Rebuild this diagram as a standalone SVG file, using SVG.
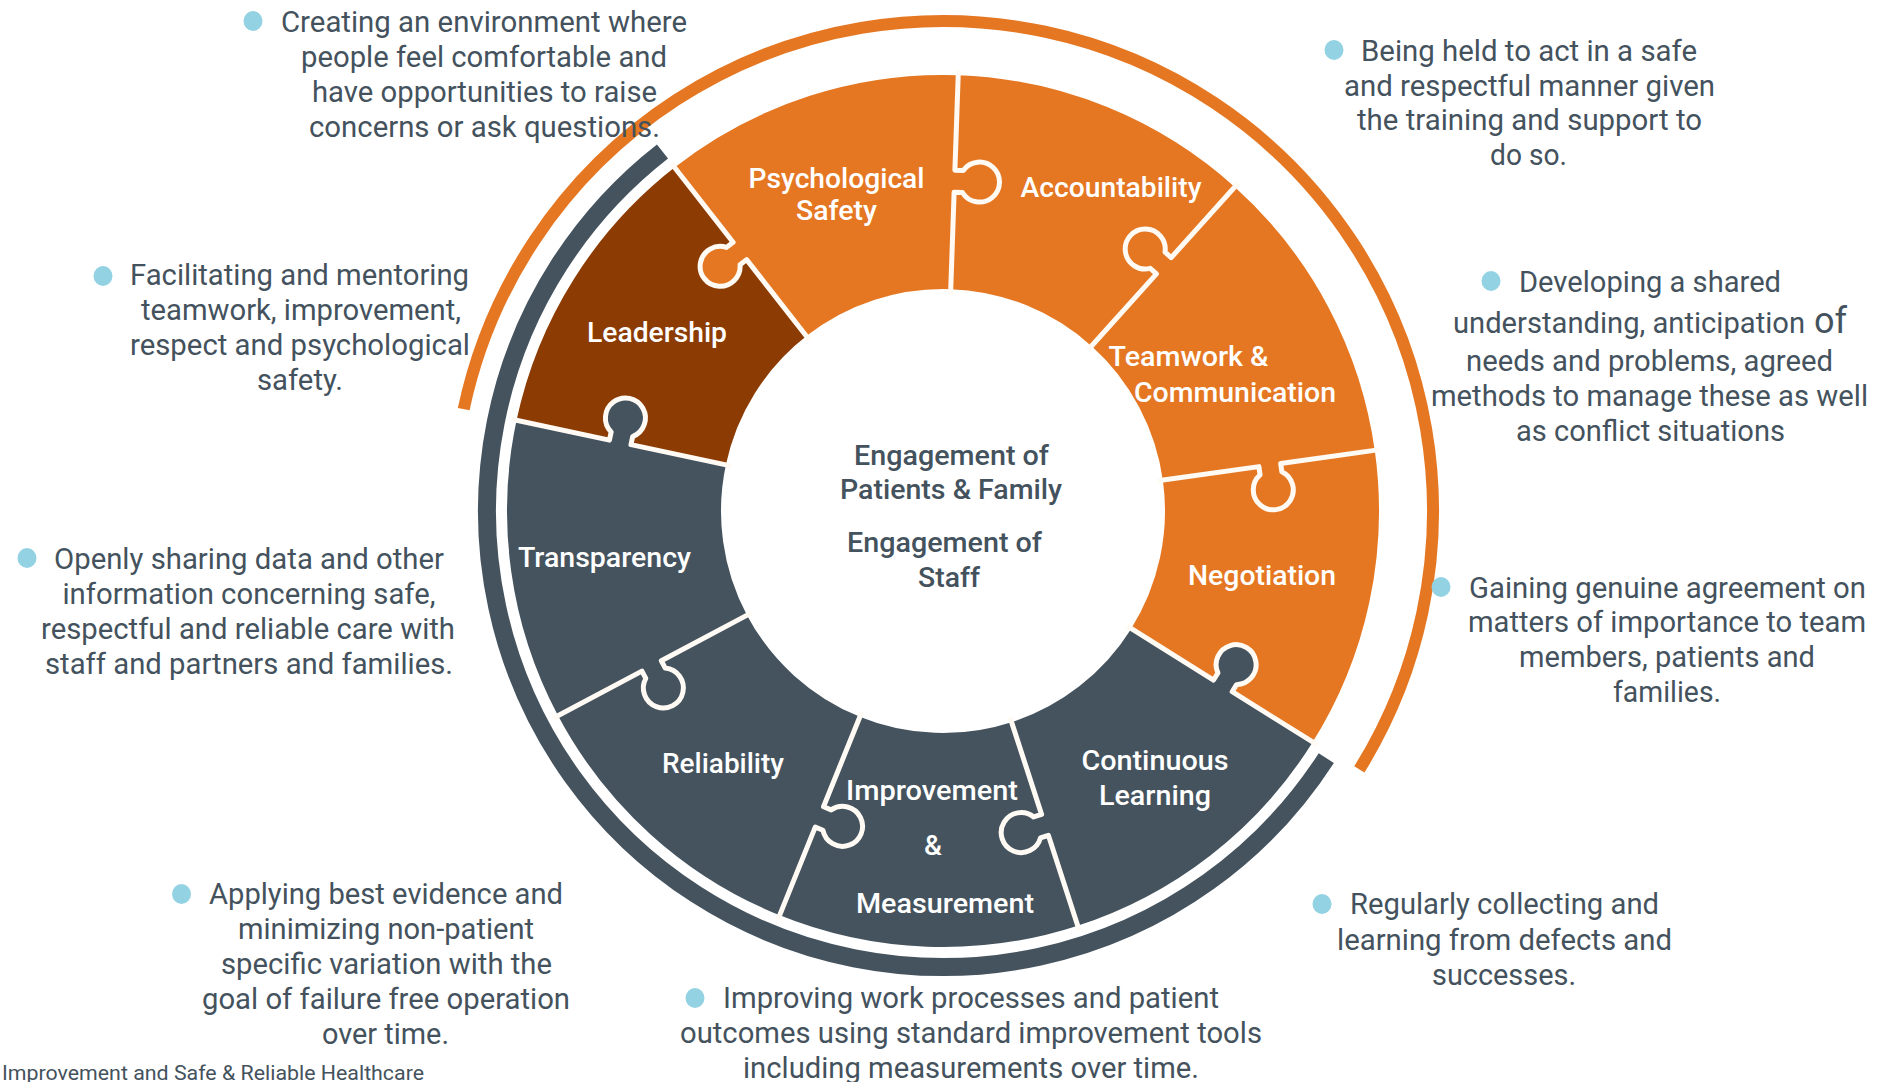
<svg xmlns="http://www.w3.org/2000/svg" width="1878" height="1082" viewBox="0 0 1878 1082">
<style>
.d{font-family:Roboto,"Liberation Sans",Arial,sans-serif;font-size:29px;fill:#44525d;text-anchor:middle}
.ds{text-anchor:start}
.l{font-family:Roboto,"Liberation Sans",Arial,sans-serif;font-weight:500;font-size:28px;fill:#ffffff;text-anchor:middle}
.ls{text-anchor:start}
.c{font-family:Roboto,"Liberation Sans",Arial,sans-serif;font-weight:500;font-size:28px;fill:#44525d;text-anchor:middle}
.b{fill:#93d2e3}
.sec{fill:none;stroke-width:214;stroke-dasharray:231 1900}
.seam{fill:none;stroke:#fffaf4;stroke-width:5;stroke-linejoin:round}
.or{stroke:#e57722}
.sl{stroke:#45535e}
</style>
<defs>
<path id="kp" d="M1262 509 V519.3 A20 20 0 1 0 1284 519.3 V509 Z"/>
<path id="kn" d="M1262 513 V502.7 A20 20 0 1 1 1284 502.7 V513 Z"/>
<path id="sp" d="M1160 511 H1262 V519.3 A20 20 0 1 0 1284 519.3 V511 H1384"/>
<path id="sn" d="M1160 511 H1262 V502.7 A20 20 0 1 1 1284 502.7 V511 H1384"/>
</defs>
<rect x="0" y="0" width="1878" height="1082" fill="#ffffff"/>

<g id="arcs">
<circle cx="943" cy="511" r="490" fill="none" stroke="#e57722" stroke-width="12" stroke-dasharray="1708.7 1400" transform="rotate(192 943 511)"/>
<circle cx="943" cy="511" r="456" fill="none" stroke="#45535e" stroke-width="18" stroke-dasharray="1585.4 1300" transform="rotate(32.8 943 511)"/>
</g>

<g id="node-leadership">
<circle class="sec" cx="943" cy="511" r="329" stroke="#8c3c03" transform="rotate(192 943 511)"/>
<text class="l" x="657" y="342" textLength="140" lengthAdjust="spacingAndGlyphs">Leadership</text>
</g>
<g id="node-psychological-safety">
<circle class="sec or" cx="943" cy="511" r="329" transform="rotate(232 943 511)"/>
<text class="l" x="836.5" y="188" textLength="176" lengthAdjust="spacingAndGlyphs">Psychological</text>
<text class="l" x="836.5" y="220" textLength="81" lengthAdjust="spacingAndGlyphs">Safety</text>
</g>
<g id="node-accountability">
<circle class="sec or" cx="943" cy="511" r="329" transform="rotate(272 943 511)"/>
<text class="l" x="1111" y="197" textLength="181" lengthAdjust="spacingAndGlyphs">Accountability</text>
</g>
<g id="node-teamwork">
<circle class="sec or" cx="943" cy="511" r="329" transform="rotate(312 943 511)"/>
<text class="l ls" x="1108.5" y="366" textLength="160" lengthAdjust="spacingAndGlyphs">Teamwork &amp;</text>
<text class="l ls" x="1134" y="402" textLength="202" lengthAdjust="spacingAndGlyphs">Communication</text>
</g>
<g id="node-negotiation">
<circle class="sec or" cx="943" cy="511" r="329" transform="rotate(352 943 511)"/>
<text class="l" x="1262" y="585" textLength="148" lengthAdjust="spacingAndGlyphs">Negotiation</text>
</g>
<g id="node-continuous-learning">
<circle class="sec sl" cx="943" cy="511" r="329" transform="rotate(32 943 511)"/>
<text class="l" x="1155" y="770" textLength="147" lengthAdjust="spacingAndGlyphs">Continuous</text>
<text class="l" x="1155" y="805" textLength="112" lengthAdjust="spacingAndGlyphs">Learning</text>
</g>
<g id="node-improvement">
<circle class="sec sl" cx="943" cy="511" r="329" transform="rotate(72 943 511)"/>
<text class="l" x="932" y="800" textLength="172" lengthAdjust="spacingAndGlyphs">Improvement</text>
<text class="l" x="933" y="855">&amp;</text>
<text class="l" x="945" y="913" textLength="178" lengthAdjust="spacingAndGlyphs">Measurement</text>
</g>
<g id="node-reliability">
<circle class="sec sl" cx="943" cy="511" r="329" transform="rotate(112 943 511)"/>
<text class="l" x="723" y="773" textLength="122" lengthAdjust="spacingAndGlyphs">Reliability</text>
</g>
<g id="node-transparency">
<circle class="sec sl" cx="943" cy="511" r="329" transform="rotate(152 943 511)"/>
<text class="l" x="604.5" y="567" textLength="173" lengthAdjust="spacingAndGlyphs">Transparency</text>
</g>

<g id="connectors">
<g transform="rotate(192 943 511)"><use href="#kp" fill="#45535e"/><use href="#sp" class="seam"/></g>
<g transform="rotate(232 943 511)"><use href="#kn" fill="#e57722"/><use href="#sn" class="seam"/></g>
<g transform="rotate(272 943 511)"><use href="#kp" fill="#e57722"/><use href="#sp" class="seam"/></g>
<g transform="rotate(312 943 511)"><use href="#kn" fill="#e57722"/><use href="#sn" class="seam"/></g>
<g transform="rotate(352 943 511)"><use href="#kp" fill="#e57722"/><use href="#sp" class="seam"/></g>
<g transform="rotate(32 943 511)"><use href="#kn" fill="#45535e"/><use href="#sn" class="seam"/></g>
<g transform="rotate(72 943 511)"><use href="#kp" fill="#45535e"/><use href="#sp" class="seam"/></g>
<g transform="rotate(112 943 511)"><use href="#kn" fill="#45535e"/><use href="#sn" class="seam"/></g>
<g transform="rotate(152 943 511)"><use href="#kn" fill="#45535e"/><use href="#sn" class="seam"/></g>
</g>

<g id="node-center">
<text class="c" x="951.5" y="465" textLength="195" lengthAdjust="spacingAndGlyphs">Engagement of</text>
<text class="c" x="951" y="499" textLength="222" lengthAdjust="spacingAndGlyphs">Patients &amp; Family</text>
<text class="c" x="944.5" y="552" textLength="195" lengthAdjust="spacingAndGlyphs">Engagement of</text>
<text class="c" x="949" y="587" textLength="62" lengthAdjust="spacingAndGlyphs">Staff</text>
</g>

<g id="desc-psychological-safety">
<ellipse class="b" cx="253" cy="21" rx="9.5" ry="10"/>
<text class="d" x="484" y="32" textLength="406" lengthAdjust="spacingAndGlyphs">Creating an environment where</text>
<text class="d" x="484" y="67" textLength="366" lengthAdjust="spacingAndGlyphs">people feel comfortable and</text>
<text class="d" x="484.5" y="102" textLength="345" lengthAdjust="spacingAndGlyphs">have opportunities to raise</text>
<text class="d" x="484.5" y="137" textLength="351" lengthAdjust="spacingAndGlyphs">concerns or ask questions.</text>
</g>
<g id="desc-leadership">
<ellipse class="b" cx="103" cy="276" rx="9.5" ry="10"/>
<text class="d" x="299.5" y="285" textLength="339" lengthAdjust="spacingAndGlyphs">Facilitating and mentoring</text>
<text class="d" x="301" y="320" textLength="320" lengthAdjust="spacingAndGlyphs">teamwork, improvement,</text>
<text class="d" x="300" y="355" textLength="340" lengthAdjust="spacingAndGlyphs">respect and psychological</text>
<text class="d" x="300" y="390" textLength="86" lengthAdjust="spacingAndGlyphs">safety.</text>
</g>
<g id="desc-transparency">
<ellipse class="b" cx="27" cy="558" rx="9.5" ry="10"/>
<text class="d" x="249" y="569" textLength="390" lengthAdjust="spacingAndGlyphs">Openly sharing data and other</text>
<text class="d" x="249" y="604" textLength="373" lengthAdjust="spacingAndGlyphs">information concerning safe,</text>
<text class="d" x="248" y="639" textLength="414" lengthAdjust="spacingAndGlyphs">respectful and reliable care with</text>
<text class="d" x="249" y="674" textLength="408" lengthAdjust="spacingAndGlyphs">staff and partners and families.</text>
</g>
<g id="desc-reliability">
<ellipse class="b" cx="181.5" cy="894" rx="9.5" ry="10"/>
<text class="d" x="386" y="904" textLength="354" lengthAdjust="spacingAndGlyphs">Applying best evidence and</text>
<text class="d" x="386" y="939" textLength="296" lengthAdjust="spacingAndGlyphs">minimizing non-patient</text>
<text class="d" x="386.5" y="974" textLength="331" lengthAdjust="spacingAndGlyphs">specific variation with the</text>
<text class="d" x="386" y="1009" textLength="368" lengthAdjust="spacingAndGlyphs">goal of failure free operation</text>
<text class="d" x="385.5" y="1044" textLength="127" lengthAdjust="spacingAndGlyphs">over time.</text>
</g>
<g id="desc-improvement">
<ellipse class="b" cx="695" cy="998" rx="9.5" ry="10"/>
<text class="d" x="971" y="1008" textLength="496" lengthAdjust="spacingAndGlyphs">Improving work processes and patient</text>
<text class="d" x="971" y="1043" textLength="582" lengthAdjust="spacingAndGlyphs">outcomes using standard improvement tools</text>
<text class="d" x="971" y="1078" textLength="456" lengthAdjust="spacingAndGlyphs">including measurements over time.</text>
</g>
<g id="desc-continuous-learning">
<ellipse class="b" cx="1322" cy="904" rx="9.5" ry="10"/>
<text class="d" x="1504.5" y="914" textLength="309" lengthAdjust="spacingAndGlyphs">Regularly collecting and</text>
<text class="d" x="1504.5" y="950" textLength="335" lengthAdjust="spacingAndGlyphs">learning from defects and</text>
<text class="d" x="1504" y="985" textLength="144" lengthAdjust="spacingAndGlyphs">successes.</text>
</g>
<g id="desc-accountability">
<ellipse class="b" cx="1334" cy="50" rx="9.5" ry="10"/>
<text class="d" x="1529" y="61" textLength="336" lengthAdjust="spacingAndGlyphs">Being held to act in a safe</text>
<text class="d" x="1529.5" y="96" textLength="371" lengthAdjust="spacingAndGlyphs">and respectful manner given</text>
<text class="d" x="1529.5" y="130" textLength="345" lengthAdjust="spacingAndGlyphs">the training and support to</text>
<text class="d" x="1528.5" y="165" textLength="77" lengthAdjust="spacingAndGlyphs">do so.</text>
</g>
<g id="desc-teamwork">
<ellipse class="b" cx="1491" cy="281" rx="9.5" ry="10"/>
<text class="d" x="1650" y="292" textLength="262" lengthAdjust="spacingAndGlyphs">Developing a shared</text>
<text class="d ds" x="1453" y="333" textLength="352" lengthAdjust="spacingAndGlyphs">understanding, anticipation</text>
<text class="d ds" x="1814" y="333" style="font-size:36px" textLength="33" lengthAdjust="spacingAndGlyphs">of</text>
<text class="d" x="1649.5" y="371" textLength="367" lengthAdjust="spacingAndGlyphs">needs and problems, agreed</text>
<text class="d" x="1649.5" y="406" textLength="437" lengthAdjust="spacingAndGlyphs">methods to manage these as well</text>
<text class="d" x="1650.5" y="441" textLength="269" lengthAdjust="spacingAndGlyphs">as conflict situations</text>
</g>
<g id="desc-negotiation">
<ellipse class="b" cx="1441" cy="587" rx="9.5" ry="10"/>
<text class="d" x="1667.5" y="598" textLength="397" lengthAdjust="spacingAndGlyphs">Gaining genuine agreement on</text>
<text class="d" x="1667" y="632" textLength="398" lengthAdjust="spacingAndGlyphs">matters of importance to team</text>
<text class="d" x="1667" y="667" textLength="296" lengthAdjust="spacingAndGlyphs">members, patients and</text>
<text class="d" x="1667" y="702" textLength="108" lengthAdjust="spacingAndGlyphs">families.</text>
</g>
<g id="footer">
<text x="2" y="1080" style="font-family:Roboto,'Liberation Sans',Arial,sans-serif;font-size:21px;fill:#44525d" textLength="422" lengthAdjust="spacingAndGlyphs">Improvement and Safe &amp; Reliable Healthcare</text>
</g>
</svg>
